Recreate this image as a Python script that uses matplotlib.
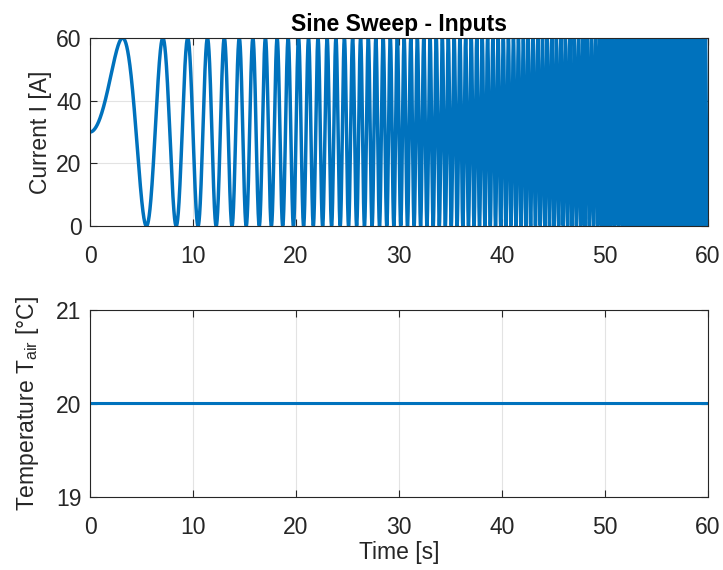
import numpy as np
import matplotlib
matplotlib.use("Agg")
import matplotlib.pyplot as plt

plt.rcParams['font.family'] = ['Liberation Sans', 'DejaVu Sans']
plt.rcParams['mathtext.fontset'] = 'custom'
plt.rcParams['mathtext.rm'] = 'Liberation Sans'

# Data: linear sine sweep 0 -> 3 Hz over 60 s, offset 30 A, amplitude 30 A
t_end = 60.0
dt = 0.01
f_start = 0.0
f_end = 3.0
current_offset = 30.0
current_amp = 30.0
air_temperature = 20.0

time = np.arange(0, t_end + dt / 2, dt)
phase = 2 * np.pi * (f_start * time + (f_end - f_start) / (2 * t_end) * time ** 2)
current = current_offset + current_amp * np.sin(phase)
temperature = np.full_like(time, air_temperature)

x_ticks = [0, 10, 20, 30, 40, 50, 60]
current_ticks = [0, 20, 40, 60]
temp_ticks = [19, 20, 21]

color = '#0072BD'
axc = '#262626'
fs = 16.5

fig = plt.figure(figsize=(7.23, 5.70), dpi=100)
ax1 = fig.add_axes([0.1245, 0.6035, 0.8548, 0.3298])
ax2 = fig.add_axes([0.1245, 0.1281, 0.8548, 0.3280])

ax1.plot(time, current, color=color, lw=2.5)
ax2.plot(time, temperature, color=color, lw=2.2)

for ax in (ax1, ax2):
    ax.set_xlim(0, 60)
    ax.set_xticks(x_ticks)
    ax.grid(True, color='#e3e3e3', lw=0.8)
    ax.set_axisbelow(True)
    ax.tick_params(direction='in', length=5, width=0.8, colors=axc, labelsize=fs,
                   top=True, right=True, labeltop=False, labelright=False)
    ax.tick_params(axis='x', pad=14)
    ax.tick_params(axis='y', pad=6)
    for sp in ax.spines.values():
        sp.set_color(axc)
        sp.set_linewidth(0.8)

ax1.set_ylim(0, 60)
ax1.set_yticks(current_ticks)
ax1.set_ylabel('Current I [A]', fontsize=fs, color=axc, labelpad=3)
ax1.set_title('Sine Sweep - Inputs', fontsize=fs, fontweight='bold', pad=5)

ax2.set_ylim(19, 21)
ax2.set_yticks(temp_ticks)
ax2.set_ylabel(r'Temperature T$_{\mathrm{air}}$ [°C]', fontsize=fs, color=axc, labelpad=11)
ax2.set_xlabel('Time [s]', fontsize=fs, color=axc, labelpad=1)

fig.savefig('out.png', dpi=100)
